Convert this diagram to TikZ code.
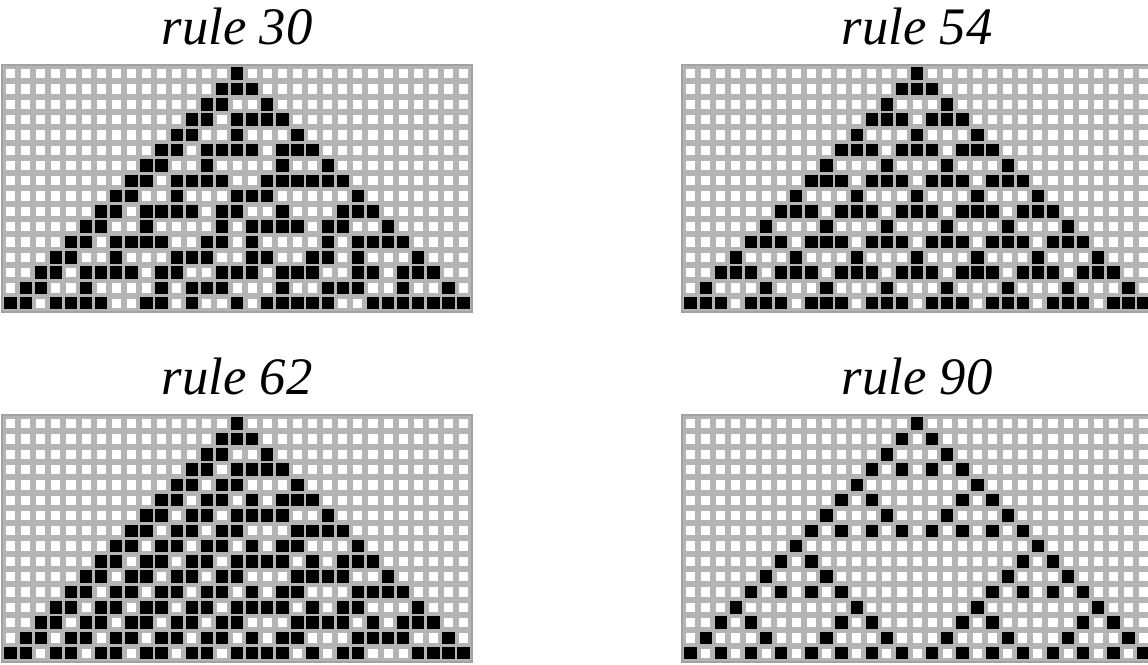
\documentclass[tikz,border=0pt]{standalone}
\usepackage{fontspec}
\setmainfont{Liberation Serif}
\definecolor{gridgray}{HTML}{B4B4B4}

% cell value of rule #1, row #2, column #3 (0 outside the grid)
\newcommand\cellval[3]{\ifcsname ca#1r#2c#3\endcsname\csname ca#1r#2c#3\endcsname\else0\fi}

% run an elementary automaton from one black cell: 16 rows, 31 columns
\newcommand\buildca[1]{%
  \foreach \col in {0,...,30}{%
    \expandafter\xdef\csname ca#1r0c\col\endcsname{0}}%
  \expandafter\xdef\csname ca#1r0c15\endcsname{1}%
  \foreach \row in {1,...,15}{%
    \foreach \col in {0,...,30}{%
      \pgfmathtruncatemacro\prow{\row-1}%
      \pgfmathtruncatemacro\colL{\col-1}%
      \pgfmathtruncatemacro\colR{\col+1}%
      \edef\lv{\cellval{#1}{\prow}{\colL}}%
      \edef\mv{\cellval{#1}{\prow}{\col}}%
      \edef\rv{\cellval{#1}{\prow}{\colR}}%
      \pgfmathtruncatemacro\idx{4*\lv+2*\mv+\rv}%
      \pgfmathtruncatemacro\val{mod(floor(#1/2^\idx),2)}%
      \expandafter\xdef\csname ca#1r\row c\col\endcsname{\val}%
    }}}

\begin{document}
\begin{tikzpicture}[x=0.02cm, y=-0.02cm,
    title/.style={font=\fontsize{30}{34}\selectfont\itshape, anchor=base},
    frame/.style={fill=gridgray, draw=gridgray!90!black, line width=0.6pt},
    oncell/.style={fill=black},
    offcell/.style={fill=white},
]
\useasboundingbox (0,0) rectangle (1148,664);

% --- four panels: rule / top-left corner ---
\foreach \rn/\px/\py in {30/2/65, 54/682/65, 62/2/415, 90/682/415} {
    \buildca{\rn}

    \node[title] (title\rn) at (\px+235, \py-21) {rule \rn};

    \filldraw[frame] (\px,\py) rectangle ++(470,247);

    % cells
    \foreach \row in {0,...,15} {
        \foreach \col in {0,...,30} {
            \edef\v{\cellval{\rn}{\row}{\col}}
            \ifnum\v=1
                \fill[oncell] ({\px+1+\col*15.1+1.4}, {\py+1+\row*15.3+1.4})
                    rectangle ++(12.3, 12.5);
            \else
                \fill[offcell] ({\px+1+\col*15.1+3}, {\py+1+\row*15.3+3})
                    rectangle ++(9.1, 9.3);
            \fi
        }
    }
}

\end{tikzpicture}
\end{document}
